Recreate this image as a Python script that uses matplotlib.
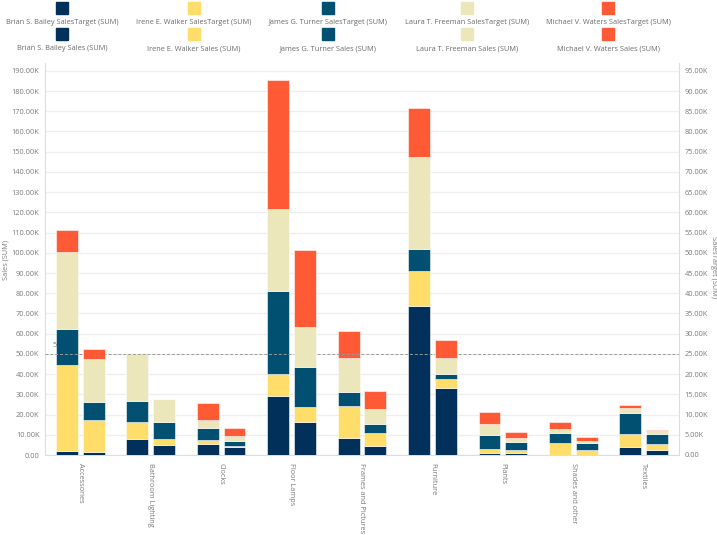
import numpy as np
import matplotlib
matplotlib.use("Agg")
from matplotlib import pyplot as plt
from matplotlib.patches import Rectangle
from matplotlib.ticker import FuncFormatter, MultipleLocator

plt.rcParams["font.family"] = ["Open Sans", "DejaVu Sans"]

categories = ["Accessories", "Bathroom Lighting", "Clocks", "Floor Lamps",
              "Frames and Pictures", "Furniture", "Plants", "Shades and other",
              "Textiles"]
people = ["Brian S. Bailey", "Irene E. Walker", "James G. Turner",
          "Laura T. Freeman", "Michael V. Waters"]
colors = ["#01305a", "#fedd6a", "#015072", "#ece7bb", "#fe5a35"]

# left axis (K), one list per person, in category order
sales = {
    "Brian S. Bailey":   [2.0, 7.8, 5.6, 29.0, 8.6, 73.8, 1.1, 0.0, 3.8],
    "Irene E. Walker":   [42.4, 8.7, 2.0, 11.2, 15.6, 17.2, 1.7, 5.8, 6.7],
    "James G. Turner":   [17.8, 10.2, 5.9, 40.9, 6.8, 10.9, 7.1, 4.9, 10.1],
    "Laura T. Freeman":  [38.2, 23.6, 4.0, 40.6, 17.1, 45.6, 5.4, 2.0, 2.5],
    "Michael V. Waters": [11.0, 0.0, 8.2, 63.6, 13.4, 24.0, 6.1, 3.5, 1.6],
}
# right axis (K)
target = {
    "Brian S. Bailey":   [0.65, 2.45, 1.9, 8.1, 2.3, 16.55, 0.4, 0.0, 1.15],
    "Irene E. Walker":   [8.1, 1.5, 0.35, 3.85, 3.05, 2.25, 0.85, 1.15, 1.65],
    "James G. Turner":   [4.45, 4.3, 1.2, 9.75, 2.25, 1.3, 1.95, 1.9, 2.45],
    "Laura T. Freeman":  [10.45, 5.6, 1.15, 10.05, 3.75, 3.8, 1.1, 0.5, 0.6],
    "Michael V. Waters": [2.55, 0.0, 2.0, 18.85, 4.4, 4.55, 1.3, 0.9, 0.4],
}
ref_line = 50.0

txt = "#6b6b6b"
tick_c = "#7a7a7a"
fs = 5.3

fig = plt.figure(figsize=(7.17, 5.35), dpi=100)
ax = fig.add_axes([45 / 717, 1 - 455 / 535, 634 / 717, (455 - 62.7) / 535])
ax2 = ax.twinx()

x = np.arange(len(categories))
w = 0.31
edge = (1, 1, 1, 0.55)

bottom = np.zeros(len(categories))
for p, c in zip(people, colors):
    v = np.array(sales[p])
    ax.bar(x - 0.19, v, w, bottom=bottom, color=c, edgecolor=edge, linewidth=0.7, zorder=3)
    bottom += v

bottom = np.zeros(len(categories))
for p, c in zip(people, colors):
    v = np.array(target[p])
    ax2.bar(x + 0.19, v, w, bottom=bottom, color=c, edgecolor=edge, linewidth=0.7, zorder=3)
    bottom += v

ax.set_xlim(-0.5, len(categories) - 0.5)
ax.set_ylim(0, 194)
ax2.set_ylim(0, 97)

ax.yaxis.set_major_locator(MultipleLocator(10))
ax2.yaxis.set_major_locator(MultipleLocator(5))
fmt = FuncFormatter(lambda v, pos: "0.00" if v == 0 else "{:.2f}K".format(v))
ax.yaxis.set_major_formatter(fmt)
ax2.yaxis.set_major_formatter(fmt)

ax.grid(axis="y", color="#eeeeee", linewidth=0.9, zorder=0)
ax.set_axisbelow(True)

for a in (ax, ax2):
    a.tick_params(axis="y", length=0, labelsize=fs, labelcolor=tick_c, pad=4)
    for s in a.spines.values():
        s.set_visible(False)
ax.spines["left"].set_visible(True)
ax.spines["left"].set_color("#dddddd")
ax.spines["bottom"].set_visible(True)
ax.spines["bottom"].set_color("#dddddd")
ax2.spines["right"].set_visible(True)
ax2.spines["right"].set_color("#dddddd")

ax.set_xticks(x)
ax.set_xticklabels(categories, rotation=-90, ha="center", va="top",
                   fontsize=fs, color=tick_c)
ax.tick_params(axis="x", length=0, pad=6)

ax.axhline(ref_line, color="#9a9a9a", linestyle=(0, (3, 2)), linewidth=0.7, zorder=4)
ax.text(-0.36, ref_line + 2.5, "5", ha="center", va="bottom", fontsize=fs, color=tick_c)

fig.text(6 / 717, 1 - 260 / 535, "Sales (SUM)", rotation=90, ha="center", va="center",
         fontsize=fs, color=tick_c)
fig.text(714 / 717, 1 - 267 / 535, "SalesTarget (SUM)", rotation=270, ha="center",
         va="center", fontsize=fs, color=tick_c)

# legend: two rows, square above each label
col_x = [62, 194, 328, 467, 608]
rows = [(" SalesTarget (SUM)", 8, 22.7), (" Sales (SUM)", 34, 49)]
for suffix, sq_y, t_y in rows:
    for p, c, cx in zip(people, colors, col_x):
        fig.add_artist(Rectangle(((cx - 6) / 717, 1 - (sq_y + 5.5) / 535), 12 / 717, 11 / 535,
                                 transform=fig.transFigure, color=c))
        fig.text(cx / 717, 1 - t_y / 535, p + suffix, ha="center", va="center",
                 fontsize=fs, color=txt)

fig.savefig("out.png", dpi=100)
